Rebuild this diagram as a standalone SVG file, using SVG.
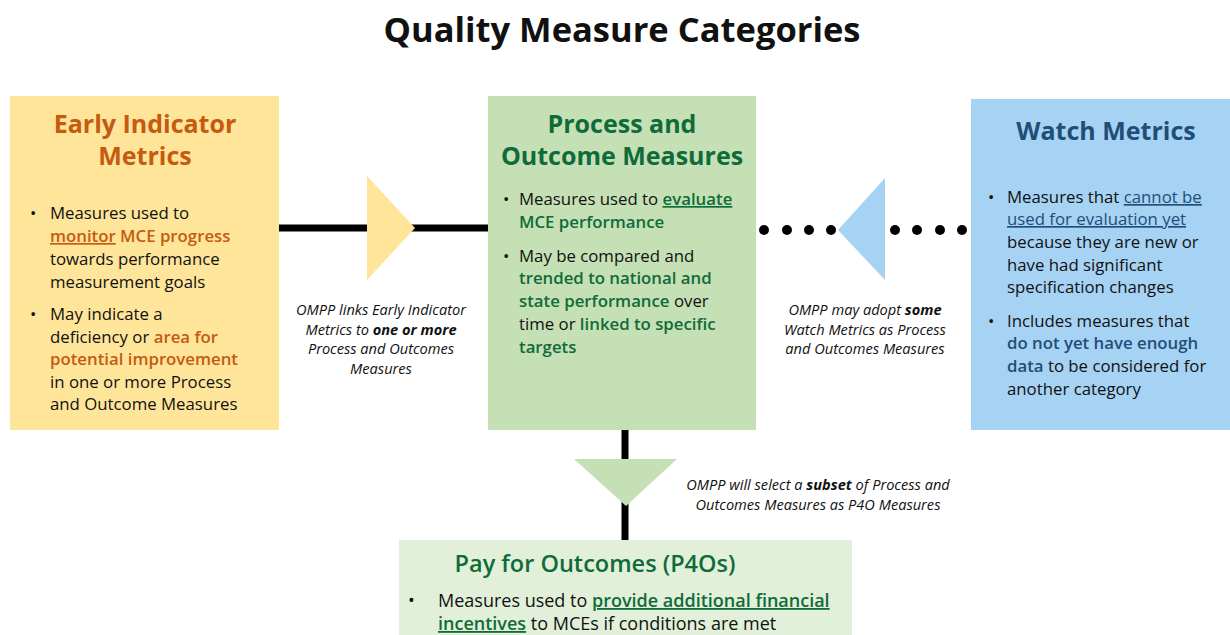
<svg xmlns="http://www.w3.org/2000/svg" width="1230" height="635" viewBox="0 0 1230 635">
<style>
text{font-family:"Open Sans","Noto Sans","DejaVu Sans",sans-serif;fill:#111}
.title{font-size:34.5px;font-weight:bold;text-anchor:middle}
.h{font-size:25px;font-weight:bold;text-anchor:middle}
.b{font-size:16.8px}
.lbl{font-size:14.6px;font-style:italic;text-anchor:middle}
.or{fill:#C55A11;font-weight:600}
.gr{fill:#0F6B3A;font-weight:600}
.bl{fill:#1F4E79;font-weight:600}
.u{text-decoration:underline}
.k{font-weight:bold}
.p4{font-size:23.5px;font-weight:600}
.pb{font-size:18px}
</style>
<rect width="1230" height="635" fill="#fff"/>
<text class="title" x="622" y="42">Quality Measure Categories</text>

<g id="connectors">
  <line x1="279" y1="228" x2="488" y2="228" stroke="#000" stroke-width="7"/>
  <polygon points="367,176 415,228 367,280" fill="#FFE599"/>
  <g fill="#000">
    <circle cx="764" cy="230" r="5"/><circle cx="787" cy="230" r="5"/><circle cx="809" cy="230" r="5"/><circle cx="831" cy="230" r="5"/>
    <circle cx="895" cy="230" r="5"/><circle cx="917" cy="230" r="5"/><circle cx="940" cy="230" r="5"/><circle cx="962" cy="230" r="5"/>
  </g>
  <polygon points="885,178 838,230 885,280" fill="#A6D2F4"/>
  <line x1="625" y1="430" x2="625" y2="540" stroke="#000" stroke-width="7"/>
  <polygon points="574,459 677,459 626,506" fill="#C5E0B4"/>
  <text class="lbl"><tspan x="381" y="315">OMPP links Early Indicator</tspan><tspan x="381" y="334.5">Metrics to <tspan class="k">one or more</tspan></tspan><tspan x="381" y="354">Process and Outcomes</tspan><tspan x="381" y="373.5">Measures</tspan></text>
  <text class="lbl"><tspan x="865" y="315">OMPP may adopt <tspan class="k">some</tspan></tspan><tspan x="865" y="334.5">Watch Metrics as Process</tspan><tspan x="865" y="354">and Outcomes Measures</tspan></text>
  <text class="lbl"><tspan x="818" y="490">OMPP will select a <tspan class="k">subset</tspan> of Process and</tspan><tspan x="818" y="509.5">Outcomes Measures as P4O Measures</tspan></text>
</g>

<g id="early">
  <rect x="10" y="96" width="269" height="334" fill="#FFE599"/>
  <text class="h or" style="font-weight:bold"><tspan x="145" y="133">Early Indicator</tspan><tspan x="145" y="165">Metrics</tspan></text>
  <text class="b"><tspan x="30" y="219">•</tspan><tspan x="50" y="219">Measures used to</tspan><tspan x="50" y="242"><tspan class="or u">monitor</tspan><tspan class="or"> MCE progress</tspan></tspan><tspan x="50" y="265">towards performance</tspan><tspan x="50" y="288">measurement goals</tspan></text>
  <text class="b"><tspan x="30" y="320">•</tspan><tspan x="50" y="320">May indicate a</tspan><tspan x="50" y="343">deficiency or <tspan class="or">area for</tspan></tspan><tspan x="50" y="365" class="or">potential improvement</tspan><tspan x="50" y="388">in one or more Process</tspan><tspan x="50" y="410">and Outcome Measures</tspan></text>
</g>

<g id="process">
  <rect x="488" y="96" width="268" height="334" fill="#C5E0B4"/>
  <text class="h gr" style="font-weight:bold"><tspan x="622" y="133">Process and</tspan><tspan x="622" y="165">Outcome Measures</tspan></text>
  <text class="b"><tspan x="503" y="205">•</tspan><tspan x="519" y="205">Measures used to <tspan class="gr u">evaluate</tspan></tspan><tspan x="519" y="228" class="gr">MCE performance</tspan></text>
  <text class="b"><tspan x="503" y="262">•</tspan><tspan x="519" y="262">May be compared and</tspan><tspan x="519" y="284" class="gr">trended to national and</tspan><tspan x="519" y="307"><tspan class="gr">state performance</tspan> over</tspan><tspan x="519" y="330">time or <tspan class="gr">linked to specific</tspan></tspan><tspan x="519" y="353" class="gr">targets</tspan></text>
</g>

<g id="watch">
  <rect x="971" y="99" width="259" height="331" fill="#A6D2F4"/>
  <text class="h bl" style="font-weight:bold"><tspan x="1106" y="140">Watch Metrics</tspan></text>
  <text class="b"><tspan x="988" y="203">•</tspan><tspan x="1007" y="203">Measures that <tspan class="bl u" style="font-weight:normal">cannot be</tspan></tspan><tspan x="1007" y="225" class="bl u" style="font-weight:normal">used for evaluation yet</tspan><tspan x="1007" y="248">because they are new or</tspan><tspan x="1007" y="271">have had significant</tspan><tspan x="1007" y="293">specification changes</tspan></text>
  <text class="b"><tspan x="988" y="327">•</tspan><tspan x="1007" y="327">Includes measures that</tspan><tspan x="1007" y="349" class="bl">do not yet have enough</tspan><tspan x="1007" y="372"><tspan class="bl">data</tspan> to be considered for</tspan><tspan x="1007" y="395">another category</tspan></text>
</g>

<g id="p4o">
  <rect x="399" y="540" width="453" height="95" fill="#E2F0D9"/>
  <text class="p4" x="595" y="572" style="fill:#0F6B3A;text-anchor:middle">Pay for Outcomes (P4Os)</text>
  <text class="pb"><tspan x="408" y="607">•</tspan><tspan x="438" y="607">Measures used to <tspan class="gr u">provide additional financial</tspan></tspan><tspan x="438" y="630"><tspan class="gr u">incentives</tspan> to MCEs if conditions are met</tspan></text>
</g>
</svg>
